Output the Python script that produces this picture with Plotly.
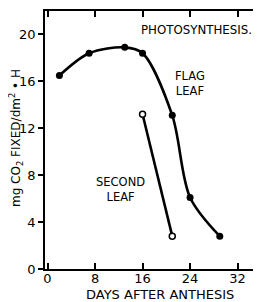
import plotly.graph_objects as go

flag_days = [2, 7, 13, 16, 21, 24, 29]
flag_rate = [16.5, 18.4, 18.9, 18.4, 13.1, 6.1, 2.8]
second_days = [16, 21]
second_rate = [13.2, 2.8]

x_ticks = [0, 8, 16, 24, 32]
y_ticks = [0, 4, 8, 12, 16, 20]

FONT = "DejaVu Sans, Verdana, sans-serif"

fig = go.Figure()
fig.add_trace(go.Scatter(
    x=flag_days, y=flag_rate, mode="lines+markers",
    line=dict(color="black", width=2.6, shape="spline", smoothing=0.9),
    marker=dict(color="black", size=7, symbol="circle"),
    showlegend=False))
fig.add_trace(go.Scatter(
    x=second_days, y=second_rate, mode="lines+markers",
    line=dict(color="black", width=2.6, shape="spline", smoothing=0.9),
    marker=dict(color="white", size=6, symbol="circle",
                line=dict(color="black", width=1.5)),
    showlegend=False))
# invisible trace so the right-side tick axis is drawn
fig.add_trace(go.Scatter(x=[0], y=[0], yaxis="y2", mode="markers",
                         marker=dict(opacity=0), showlegend=False,
                         hoverinfo="skip"))

# the page body adds an 8px margin, so the figure is sized/offset for it
fig.update_layout(
    width=253, height=294,
    margin=dict(l=37, r=2, t=3, b=33),
    paper_bgcolor="white", plot_bgcolor="white",
    font=dict(family=FONT, size=12.5, color="black"),
    xaxis=dict(range=[-0.42, 35.6], tickvals=x_ticks,
               ticks="inside", ticklen=6, tickwidth=1.5, tickcolor="black",
               showline=True, linecolor="black", linewidth=1.5,
               mirror="ticks", showgrid=False, zeroline=False,
               ticklabelstandoff=-3,
               tickfont=dict(size=13)),
    yaxis=dict(range=[0, 22], tickvals=y_ticks,
               ticks="outside", ticklen=5, tickwidth=1.5, tickcolor="black",
               showline=True, linecolor="black", linewidth=1.5,
               showgrid=False, zeroline=False,
               tickfont=dict(size=13)),
    yaxis2=dict(range=[0, 22], tickvals=y_ticks, overlaying="y", side="right",
                ticks="inside", ticklen=5, tickwidth=1.5, tickcolor="black",
                showline=True, linecolor="black", linewidth=1,
                showticklabels=False, showgrid=False, zeroline=False),
)

annos = [
    dict(text="DAYS AFTER ANTHESIS", x=160, y=294, size=13),
    dict(text="PHOTOSYNTHESIS.", x=196, y=30, size=11.8),
    dict(text="FLAG<br>LEAF", x=190, y=83, size=11.5),
    dict(text="SECOND<br>LEAF", x=120, y=189, size=11.5),
]
for a in annos:
    fig.add_annotation(text=a["text"], xref="paper", yref="paper",
                       x=(a["x"] - 45) / 214, y=(269 - a["y"]) / 258,
                       showarrow=False, xanchor="center", yanchor="middle",
                       font=dict(family=FONT, size=a["size"], color="black"),
                       align="center")

fig.add_annotation(text="mg CO<sub>2</sub> FIXED/dm<sup>2</sup> • H",
                   xref="paper", yref="paper",
                   x=(16 - 45) / 214, y=(269 - 138) / 258,
                   textangle=-90, showarrow=False,
                   xanchor="center", yanchor="middle",
                   font=dict(family=FONT, size=12, color="black"))

fig.write_html("out.html")
